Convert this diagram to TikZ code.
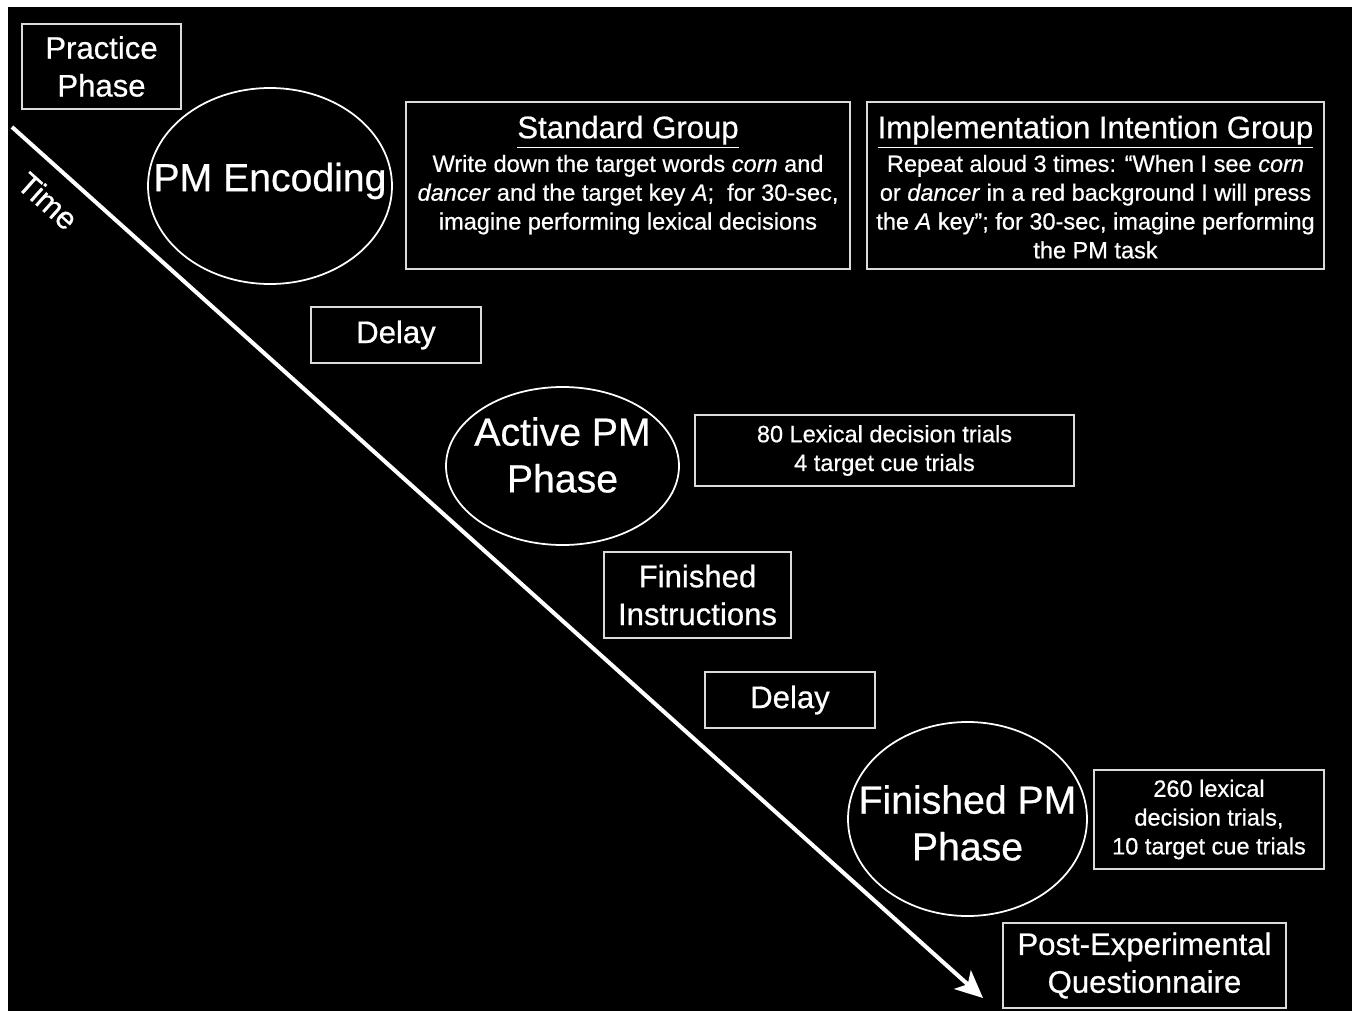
\documentclass[tikz,border=0pt]{standalone}
\usepackage{fontspec}
\setmainfont{Liberation Sans}[FakeBold=0.6]
\usepackage{xcolor}
\usetikzlibrary{shapes.geometric,positioning,arrows.meta}

\definecolor{boxgray}{gray}{0.86}
\newcommand{\pxu}{0.02cm}
\newcommand{\smalltxt}{\fontsize{13.4}{16.4}\selectfont}
\newcommand{\midtxt}{\fontsize{17.7}{21.5}\selectfont}
\newcommand{\bigtxt}{\fontsize{22.3}{26.6}\selectfont}

\begin{document}
\begin{tikzpicture}[x=\pxu, y=-\pxu, >=Stealth, text=white,
  boxsize/.style 2 args={minimum width=#1*\pxu, minimum height=#2*\pxu},
  stagebox/.style={draw=boxgray, line width=0.8pt, fill=black, align=center, inner sep=0pt, font=\midtxt},
  infobox/.style={stagebox, font=\smalltxt},
  grouptext/.style={anchor=north, align=center, inner sep=0pt, font=\smalltxt},
  phase/.style={ellipse, draw=white, line width=1pt, inner sep=0pt},
  phasetext/.style={align=center, inner sep=0pt, font=\bigtxt}]

  \useasboundingbox (0,0) rectangle (1357,1011);
  \fill[white] (0,0) rectangle (1357,1011);
  \fill[black] (8,7) rectangle (1352,1011);

  
  \coordinate (tstart) at (12,127);
  \coordinate (tend) at (983,998);
  \draw[-{Stealth[length=0.55cm, width=0.5cm, inset=0.14cm]}, line width=2.3pt, white] (tstart) -- (tend);
  \node[rotate=-41.9, font=\midtxt, inner sep=0pt] (timelbl) at (48,201) {Time};

  
  \node[stagebox, boxsize={159}{85}] (practice) at (101.5,66.5) {Practice\\Phase};
  \node[phase, boxsize={244}{196}, label={[phasetext, yshift=5*\pxu]center:PM Encoding}] (encoding) at (270,186) {};

  \node[stagebox, boxsize={444}{167}] (stdgrp) at (628,185.5) {};
  \node[grouptext] (stdtext) at ([yshift=-14*\pxu]stdgrp.north)
    {{\midtxt\underline{Standard Group}}\\[2.8pt]
     Write down the target words \textit{corn} and\\
     \textit{dancer} and the target key \textit{A};\ \ for 30-sec,\\
     imagine performing lexical decisions};

  \node[stagebox, boxsize={457}{167}] (implgrp) at (1095.5,185.5) {};
  \node[grouptext] (impltext) at ([yshift=-14*\pxu]implgrp.north)
    {{\midtxt\underline{Implementation Intention Group}}\\[2.8pt]
     Repeat aloud 3 times: “When I see \textit{corn}\\
     or \textit{dancer} in a red background I will press\\
     the \textit{A} key”; for 30-sec, imagine performing\\
     the PM task};

  
  \node[stagebox, boxsize={170}{56}] (delay1) at (396,335) {Delay};
  \node[phase, boxsize={233}{158}, label={[phasetext, yshift=11*\pxu]center:Active PM\\Phase}] (active) at (562.5,466) {};
  \node[infobox, boxsize={379}{71}] (activetr) at (884.5,450.5) {80 Lexical decision trials\\4 target cue trials};

  \node[stagebox, boxsize={187}{86}] (instr) at (697.5,595) {Finished\\Instructions};
  \node[stagebox, boxsize={170}{56}] (delay2) at (790,700) {Delay};

  
  \node[phase, boxsize={239}{194}, label={[phasetext, yshift=-4*\pxu]center:Finished PM\\Phase}] (finished) at (967.5,819) {};
  \node[infobox, boxsize={230}{99}] (finishedtr) at (1209,819.5) {260 lexical\\decision trials,\\10 target cue trials};
  \node[stagebox, boxsize={283}{85}] (postexp) at (1144.5,965.5) {Post-Experimental\\Questionnaire};

\end{tikzpicture}
\end{document}
